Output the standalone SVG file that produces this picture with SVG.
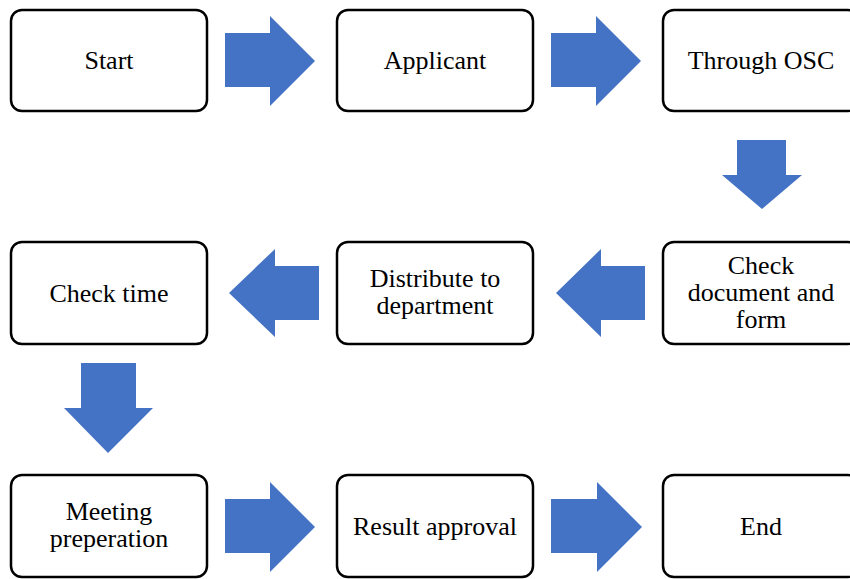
<svg xmlns="http://www.w3.org/2000/svg" width="850" height="579" viewBox="0 0 850 579">
<style>
.box{fill:#fff;stroke:#000;stroke-width:2.5}
.t{font-family:"Liberation Serif","Times New Roman",serif;font-size:26px;fill:#000;text-anchor:middle}
.arr{fill:#4472C4}
</style>
<rect width="850" height="579" fill="#fff"/>
<g id="connectors">
<polygon class="arr" points="225,33 270,33 270,16 315,61 270,106 270,87 225,87"/>
<polygon class="arr" points="551,33 596,33 596,16 641,61 596,106 596,87 551,87"/>
<polygon class="arr" points="737,140 786,140 786,175 802,175 762,209 722,175 737,175"/>
<polygon class="arr" points="645,266 601,266 601,249 556,293 601,337 601,320 645,320"/>
<polygon class="arr" points="319,266 275,266 275,249 229,293 275,337 275,320 319,320"/>
<polygon class="arr" points="81,363 136,363 136,408 153,408 108,453 64,408 81,408"/>
<polygon class="arr" points="225,499 270,499 270,482 315,527 270,572 270,553 225,553"/>
<polygon class="arr" points="551,499 597,499 597,482 642,527 597,572 597,553 551,553"/>
</g>
<g id="start"><rect class="box" x="11" y="10" width="196" height="101" rx="11"/><text class="t" x="109" y="69">Start</text></g>
<g id="applicant"><rect class="box" x="337" y="10" width="196" height="101" rx="11"/><text class="t" x="435" y="69">Applicant</text></g>
<g id="osc"><rect class="box" x="663" y="10" width="196" height="101" rx="11"/><text class="t" x="761" y="69">Through OSC</text></g>
<g id="check-doc"><rect class="box" x="663" y="242" width="196" height="102" rx="11"/><text class="t" x="761" y="274">Check</text><text class="t" x="761" y="301">document and</text><text class="t" x="761" y="328">form</text></g>
<g id="distribute"><rect class="box" x="337" y="242" width="196" height="102" rx="11"/><text class="t" x="435" y="287">Distribute to</text><text class="t" x="435" y="314">department</text></g>
<g id="check-time"><rect class="box" x="11" y="242" width="196" height="102" rx="11"/><text class="t" x="109" y="302">Check time</text></g>
<g id="meeting"><rect class="box" x="11" y="475" width="196" height="102" rx="11"/><text class="t" x="109" y="520">Meeting</text><text class="t" x="109" y="547">preperation</text></g>
<g id="result"><rect class="box" x="337" y="475" width="196" height="102" rx="11"/><text class="t" x="435" y="535">Result approval</text></g>
<g id="end"><rect class="box" x="663" y="475" width="196" height="102" rx="11"/><text class="t" x="761" y="535">End</text></g>
</svg>
